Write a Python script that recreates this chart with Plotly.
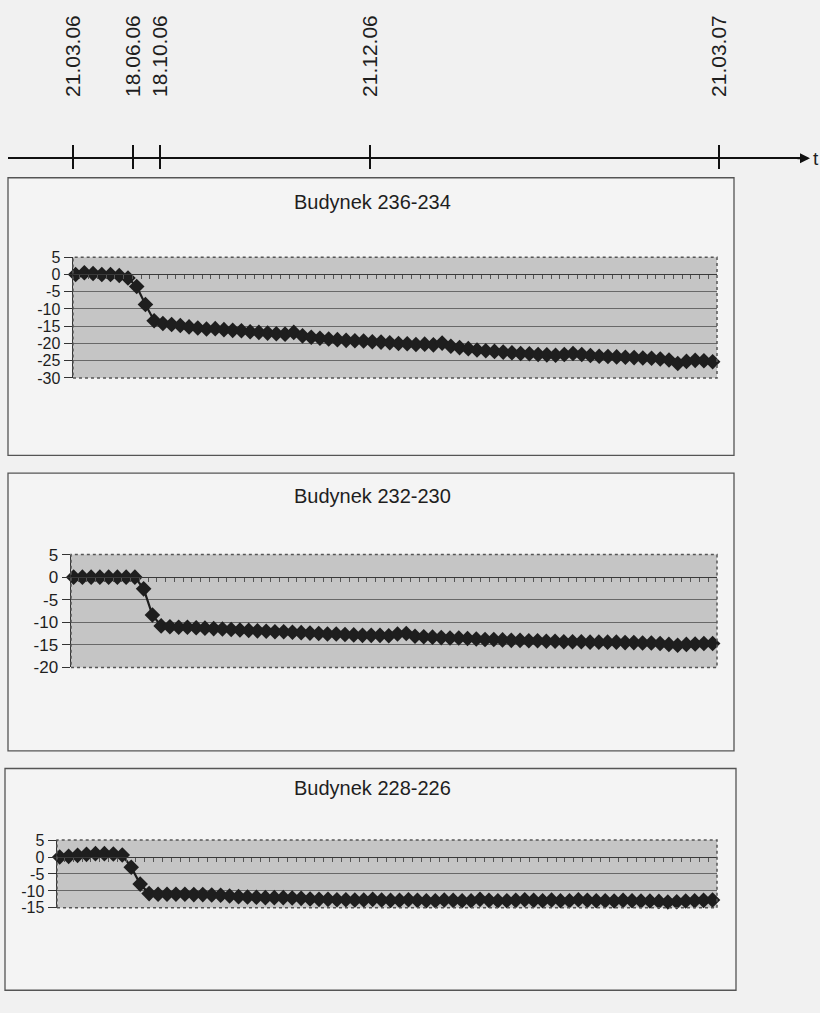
import plotly.graph_objects as go

W, H = 820, 1013

# ---------------- data ----------------
timeline_dates = ["21.03.06", "18.06.06", "18.10.06", "21.12.06", "21.03.07"]

titles = ["Budynek 236-234", "Budynek 232-230", "Budynek 228-226"]

b236_234 = [0, 0.5, 0.3, 0, 0, -0.3, -1, -3.5, -8.7, -13.4,
            -14.2, -14.5, -14.8, -15.2, -15.5, -15.8, -15.7, -16, -16.2, -16.3,
            -16.6, -16.8, -17, -17.2, -17.3, -16.8, -17.8, -18.2, -18.5, -18.7,
            -18.9, -19.1, -19.2, -19.3, -19.5, -19.6, -19.8, -20, -20.1, -20.3,
            -20.2, -20.4, -19.9, -20.8, -21.2, -21.5, -21.9, -22.1, -22.3, -22.5,
            -22.7, -22.9, -23, -23.2, -23.3, -23.4, -23.2, -22.9, -23.2, -23.5,
            -23.7, -23.8, -23.9, -24, -24.1, -24.2, -24.3, -24.5, -24.8, -25.8,
            -25.2, -24.9, -25, -25.3]

b232_230 = [0, 0, 0, 0, 0, 0, 0, 0, -2.6, -8.4,
            -10.8, -11, -11.1, -11.1, -11.2, -11.3, -11.4, -11.5, -11.6, -11.7,
            -11.8, -11.9, -12, -12.1, -12.1, -12.2, -12.3, -12.4, -12.5, -12.6,
            -12.6, -12.7, -12.8, -12.9, -12.9, -12.9, -13, -12.6, -12.5, -13.1,
            -13.2, -13.3, -13.4, -13.5, -13.5, -13.6, -13.7, -13.8, -13.8, -13.9,
            -14, -14, -14.1, -14.1, -14.2, -14.2, -14.3, -14.3, -14.3, -14.4,
            -14.4, -14.4, -14.4, -14.5, -14.5, -14.6, -14.6, -14.7, -14.9, -15.1,
            -14.9, -14.8, -14.7, -14.7]

b228_226 = [0, 0.2, 0.5, 0.8, 1, 1, 0.9, 0.6, -3, -8,
            -10.8, -11, -11, -11, -11, -11.1, -11.1, -11.2, -11.3, -11.5,
            -11.7, -11.8, -11.9, -12, -12, -12, -12.1, -12.2, -12.4, -12.5,
            -12.5, -12.6, -12.6, -12.7, -12.7, -12.5, -12.7, -12.8, -12.8, -12.6,
            -12.8, -12.9, -12.9, -12.7, -12.8, -12.9, -12.9, -12.5, -12.8, -12.9,
            -12.9, -12.8, -12.6, -12.8, -12.9, -12.7, -12.9, -12.9, -12.6, -12.8,
            -12.9, -12.9, -13, -12.8, -12.9, -13, -13, -13.1, -13.3, -13.2,
            -13, -12.9, -12.8, -12.7]

series = [b236_234, b232_230, b228_226]
y_ticks = [[5, 0, -5, -10, -15, -20, -25, -30],
           [5, 0, -5, -10, -15, -20],
           [5, 0, -5, -10, -15]]

# ---------------- layout (pixels) ----------------
timeline_px = [73, 133, 160, 370, 719]   # schematic positions on the time arrow
timeline_y = 152

panels = [
    dict(plot=(73, 717, 253, 376), frame=(8, 734, 172, 455), title_y=197, tick_font=16),
    dict(plot=(71, 717, 556, 671), frame=(8, 734, 473, 756), title_y=496, tick_font=17),
    dict(plot=(57, 717, 847, 916), frame=(5, 736, 774, 1000), title_y=794, tick_font=16),
]


def fx(x):
    return x / W


def fy(y):
    return 1 - y / H


PAGE = "#f1f1f1"
FRAME_BG = "#f4f4f4"
PLOT_BG = "#c5c5c5"
INK = "#1e1e1e"
FONT = "Liberation Sans, Arial, sans-serif"

fig = go.Figure()
frame_shapes = []
plot_shapes = []
border_shapes = []
annotations = []

for k, (vals, ticks, p, title) in enumerate(zip(series, y_ticks, panels, titles)):
    n = k + 1
    xa = "xaxis" if n == 1 else f"xaxis{n}"
    ya = "yaxis" if n == 1 else f"yaxis{n}"
    xr = "x" if n == 1 else f"x{n}"
    yr = "y" if n == 1 else f"y{n}"
    x0, x1, y0, y1 = p["plot"]
    ymin, ymax = min(ticks), max(ticks)
    xs = list(range(len(vals)))
    xrange = [-0.3, len(vals) - 0.5]

    fig.add_trace(go.Scatter(
        x=xs, y=vals, xaxis=xr, yaxis=yr, mode="lines+markers",
        line=dict(color=INK, width=2.2),
        marker=dict(symbol="diamond", size=12, color=INK, line=dict(width=0)),
        showlegend=False, hoverinfo="skip", cliponaxis=False))

    ydom = [fy(y1), fy(y0)]
    zero_pos = ydom[0] + (0 - ymin) / (ymax - ymin) * (ydom[1] - ydom[0])

    fig.layout[xa] = dict(
        domain=[fx(x0), fx(x1)], range=xrange, anchor="free", position=zero_pos,
        showline=True, linecolor="#3a3a3a", linewidth=1,
        ticks="outside", ticklen=4, tickwidth=1, tickcolor="#555",
        tickvals=[i + 0.5 for i in range(len(vals) - 1)],
        showticklabels=False, showgrid=False, zeroline=False, fixedrange=True)
    fig.layout[ya] = dict(
        domain=ydom, range=[ymin, ymax], anchor=xr,
        tickvals=ticks, ticktext=[str(t) for t in ticks],
        showline=True, linecolor="#333", linewidth=1.5,
        ticks="outside", ticklen=8, tickcolor="#333",
        showgrid=True, gridcolor="#686868", gridwidth=1, zeroline=False,
        tickfont=dict(family=FONT, size=p["tick_font"], color=INK), fixedrange=True)

    # chart frame
    fx0, fx1, fy0, fy1 = p["frame"]
    frame_shapes.append(dict(type="rect", xref="paper", yref="paper",
                             x0=fx(fx0), x1=fx(fx1), y0=fy(fy1), y1=fy(fy0),
                             line=dict(color="#555", width=1.3), fillcolor=FRAME_BG,
                             layer="below"))
    # plot area fill + border
    plot_shapes.append(dict(type="rect", xref=f"{xr} domain", yref=f"{yr} domain",
                            x0=0, x1=1, y0=0, y1=1, line=dict(width=0),
                            fillcolor=PLOT_BG, layer="below"))
    border_shapes.append(dict(type="rect", xref=f"{xr} domain", yref=f"{yr} domain",
                              x0=0, x1=1, y0=0, y1=1,
                              line=dict(color="#555", width=1.5, dash="dot"), layer="above"))
    annotations.append(dict(text=title, xref="paper", yref="paper",
                            x=fx(372), y=fy(p["title_y"]), xanchor="center", yanchor="middle",
                            showarrow=False, font=dict(family=FONT, size=20, color=INK)))

# ---------------- time arrow ----------------
fig.add_trace(go.Scatter(x=timeline_px, y=[0] * len(timeline_px), xaxis="x4", yaxis="y4",
                         mode="markers", marker=dict(opacity=0), showlegend=False,
                         hoverinfo="skip"))
fig.layout["xaxis4"] = dict(
    domain=[fx(8), fx(803)], range=[8, 803], anchor="free", position=fy(timeline_y),
    side="top", showline=True, linecolor="#111", linewidth=2,
    tickvals=timeline_px, ticktext=timeline_dates, tickangle=-90,
    ticks="outside", ticklen=12, tickwidth=1.5, tickcolor="#111",
    minor=dict(tickvals=timeline_px, ticks="inside", ticklen=10, tickwidth=1.5, tickcolor="#111"),
    tickfont=dict(family=FONT, size=21, color=INK), ticklabelstandoff=44,
    showgrid=False, zeroline=False, fixedrange=True)
fig.layout["yaxis4"] = dict(domain=[fy(153), fy(151)], range=[-1, 1], anchor="x4",
                            visible=False, fixedrange=True)
annotations.append(dict(text="", xref="paper", yref="paper", x=fx(810), y=fy(timeline_y),
                        ax=-14, ay=0, showarrow=True, arrowhead=2, arrowsize=1,
                        arrowwidth=2, arrowcolor="#111"))
annotations.append(dict(text="t", xref="paper", yref="paper", x=fx(811), y=fy(timeline_y),
                        xanchor="left", yanchor="middle", showarrow=False,
                        font=dict(family=FONT, size=19, color=INK)))

fig.update_layout(width=W, height=H, margin=dict(l=0, r=0, t=0, b=0),
                  paper_bgcolor=PAGE, plot_bgcolor="rgba(0,0,0,0)",
                  shapes=frame_shapes + plot_shapes + border_shapes,
                  annotations=annotations, showlegend=False)

fig.write_html("out.html", config={"displayModeBar": False, "staticPlot": True},
               post_script="document.body.style.margin='0';document.body.style.padding='0';"
                           "document.body.style.overflow='hidden';")
